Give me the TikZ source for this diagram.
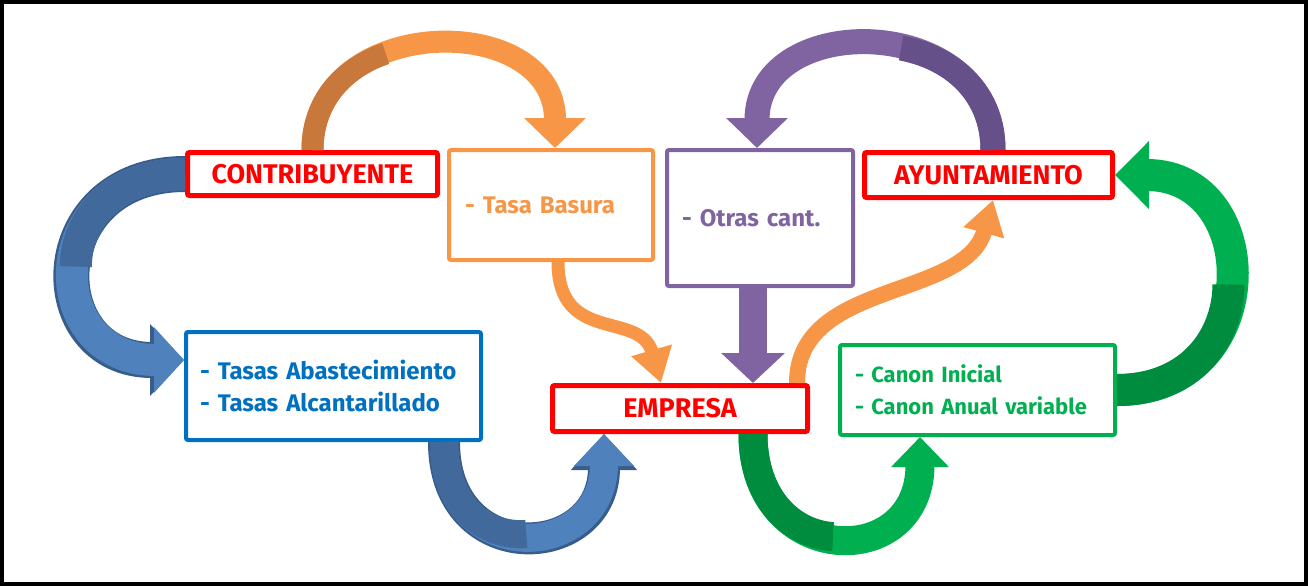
\documentclass[tikz,border=0pt]{standalone}
\usepackage{fontspec}
\setmainfont{Fira Sans}
\usetikzlibrary{arrows.meta}

\definecolor{boxRed}{HTML}{FF0000}
\definecolor{orangeA}{HTML}{F79646}
\definecolor{orangeB}{HTML}{C8783A}
\definecolor{purpleA}{HTML}{8064A2}
\definecolor{purpleB}{HTML}{66508A}
\definecolor{blueBox}{HTML}{0070C0}
\definecolor{blueA}{HTML}{4F81BD}
\definecolor{blueB}{HTML}{41699B}
\definecolor{blueC}{HTML}{385D8A}
\definecolor{greenA}{HTML}{00B050}
\definecolor{greenB}{HTML}{008C3F}

\tikzset{
    redbox/.style={
        draw=boxRed,
        text=boxRed,
        line width=2.5pt,
        fill=white,
        rounded corners=1pt,
        font=\bfseries\fontsize{13.5}{15}\selectfont
    },
    listbox/.style={
        draw=#1,
        text=#1,
        line width=2pt,
        fill=white,
        rounded corners=1pt,
        align=left,
        font=\bfseries\fontsize{12}{16}\selectfont
    },
    band/.style n args={4}{
        draw=#1,
        line width=#2,
        -{Triangle[width=#3, length=#4]}
    },
    bandline/.style n args={4}{
        preaction={draw=#1, line width=#2, -{Triangle[width=#3, length=#4]}}
    },
    backpart/.style 2 args={
        postaction={draw=#1, -, dash pattern=on #2 off 3000pt}
    }
}

\begin{document}
\begin{tikzpicture}[x=0.5pt, y=-0.5pt]
    \useasboundingbox (0,0) rectangle (1308,586);
    \draw [line width=2pt] (2,2) rectangle (1306,584);

    % Boxes
    \node (contrib) [
        redbox,
        minimum width=125pt,
        minimum height=21.5pt
    ] at (312.5,174) {CONTRIBUYENTE};
    \node (ayunt) [
        redbox,
        minimum width=124pt,
        minimum height=22.5pt
    ] at (988.5,175) {AYUNTAMIENTO};
    \node (empresa) [
        redbox,
        minimum width=127.5pt,
        minimum height=23pt
    ] at (680,408.5) {EMPRESA};
    \node (tasaBas) [
        listbox=orangeA,
        inner xsep=8pt,
        text width=86pt,
        minimum height=55pt
    ] at (551,205) {- Tasa Basura};
    \node (otras) [
        listbox=purpleA,
        inner xsep=7.5pt,
        text width=78pt,
        minimum height=68pt
    ] at (760,218) {- Otras cant.};
    \node (tasasAb) [
        listbox=blueBox,
        inner xsep=7pt,
        text width=133.5pt,
        minimum height=54pt
    ] at (333.5,386) {- Tasas Abastecimiento\\- Tasas Alcantarillado};
    \node (canon) [
        listbox=greenA,
        font=\bfseries\fontsize{11}{16}\selectfont,
        inner xsep=7.5pt,
        text width=122.5pt,
        minimum height=45pt
    ] at (977.5,390) {- Canon Inicial\\- Canon Anual variable};

    % Curved flows
    \draw [band={orangeA}{11pt}{30pt}{15pt}, backpart={orangeB}{65pt}]
        (contrib.north) .. controls +(0,-138) and +(0,-138) .. ([xshift=2pt]tasaBas.north);
    \draw [band={purpleA}{12.5pt}{30pt}{15pt}, backpart={purpleB}{75pt}]
        ([xshift=2.25pt]ayunt.north) .. controls +(0,-138) and +(0,-138) .. ([xshift=-1.5pt]otras.north);
    \draw [bandline={blueC}{18pt}{35pt}{17pt}, band={blueA}{16pt}{32pt}{15pt}, backpart={blueB}{80pt}]
        (contrib.west) .. controls +(-145,0) and +(-145,0) .. ([yshift=13pt]tasasAb.west);
    \draw [bandline={blueC}{16pt}{32pt}{18pt}, band={blueA}{14pt}{29pt}{16pt}, backpart={blueB}{70pt}]
        ([xshift=55.25pt]tasasAb.south) .. controls +(0,128) and +(0,128) .. ([xshift=-38pt]empresa.south);
    \draw [band={greenA}{14.5pt}{28pt}{15pt}, backpart={greenB}{72pt}]
        ([xshift=36.5pt]empresa.south) .. controls +(0,135) and +(0,135) .. ([xshift=-28.75pt]canon.south);
    \draw [band={greenA}{16pt}{33pt}{17pt}, backpart={greenB}{86pt}]
        (canon.east) .. controls +(150,0) and +(150,0) .. (ayunt.east);

    % Flows into and out of EMPRESA
    \draw [band={orangeA}{6.5pt}{20pt}{17pt}]
        ([xshift=3.5pt]tasaBas.south) .. controls +(0,83) and +(-21,-73) .. ([xshift=-9.5pt]empresa.north);
    \draw [band={purpleA}{14pt}{31pt}{15pt}]
        ([xshift=-3.5pt]otras.south) -- ([xshift=36.5pt]empresa.north);
    \draw [band={orangeA}{8pt}{20pt}{17pt}]
        ([xshift=58.5pt]empresa.north) .. controls +(0,-103) and +(-28,100) .. ([xshift=2.25pt]ayunt.south);
\end{tikzpicture}
\end{document}
